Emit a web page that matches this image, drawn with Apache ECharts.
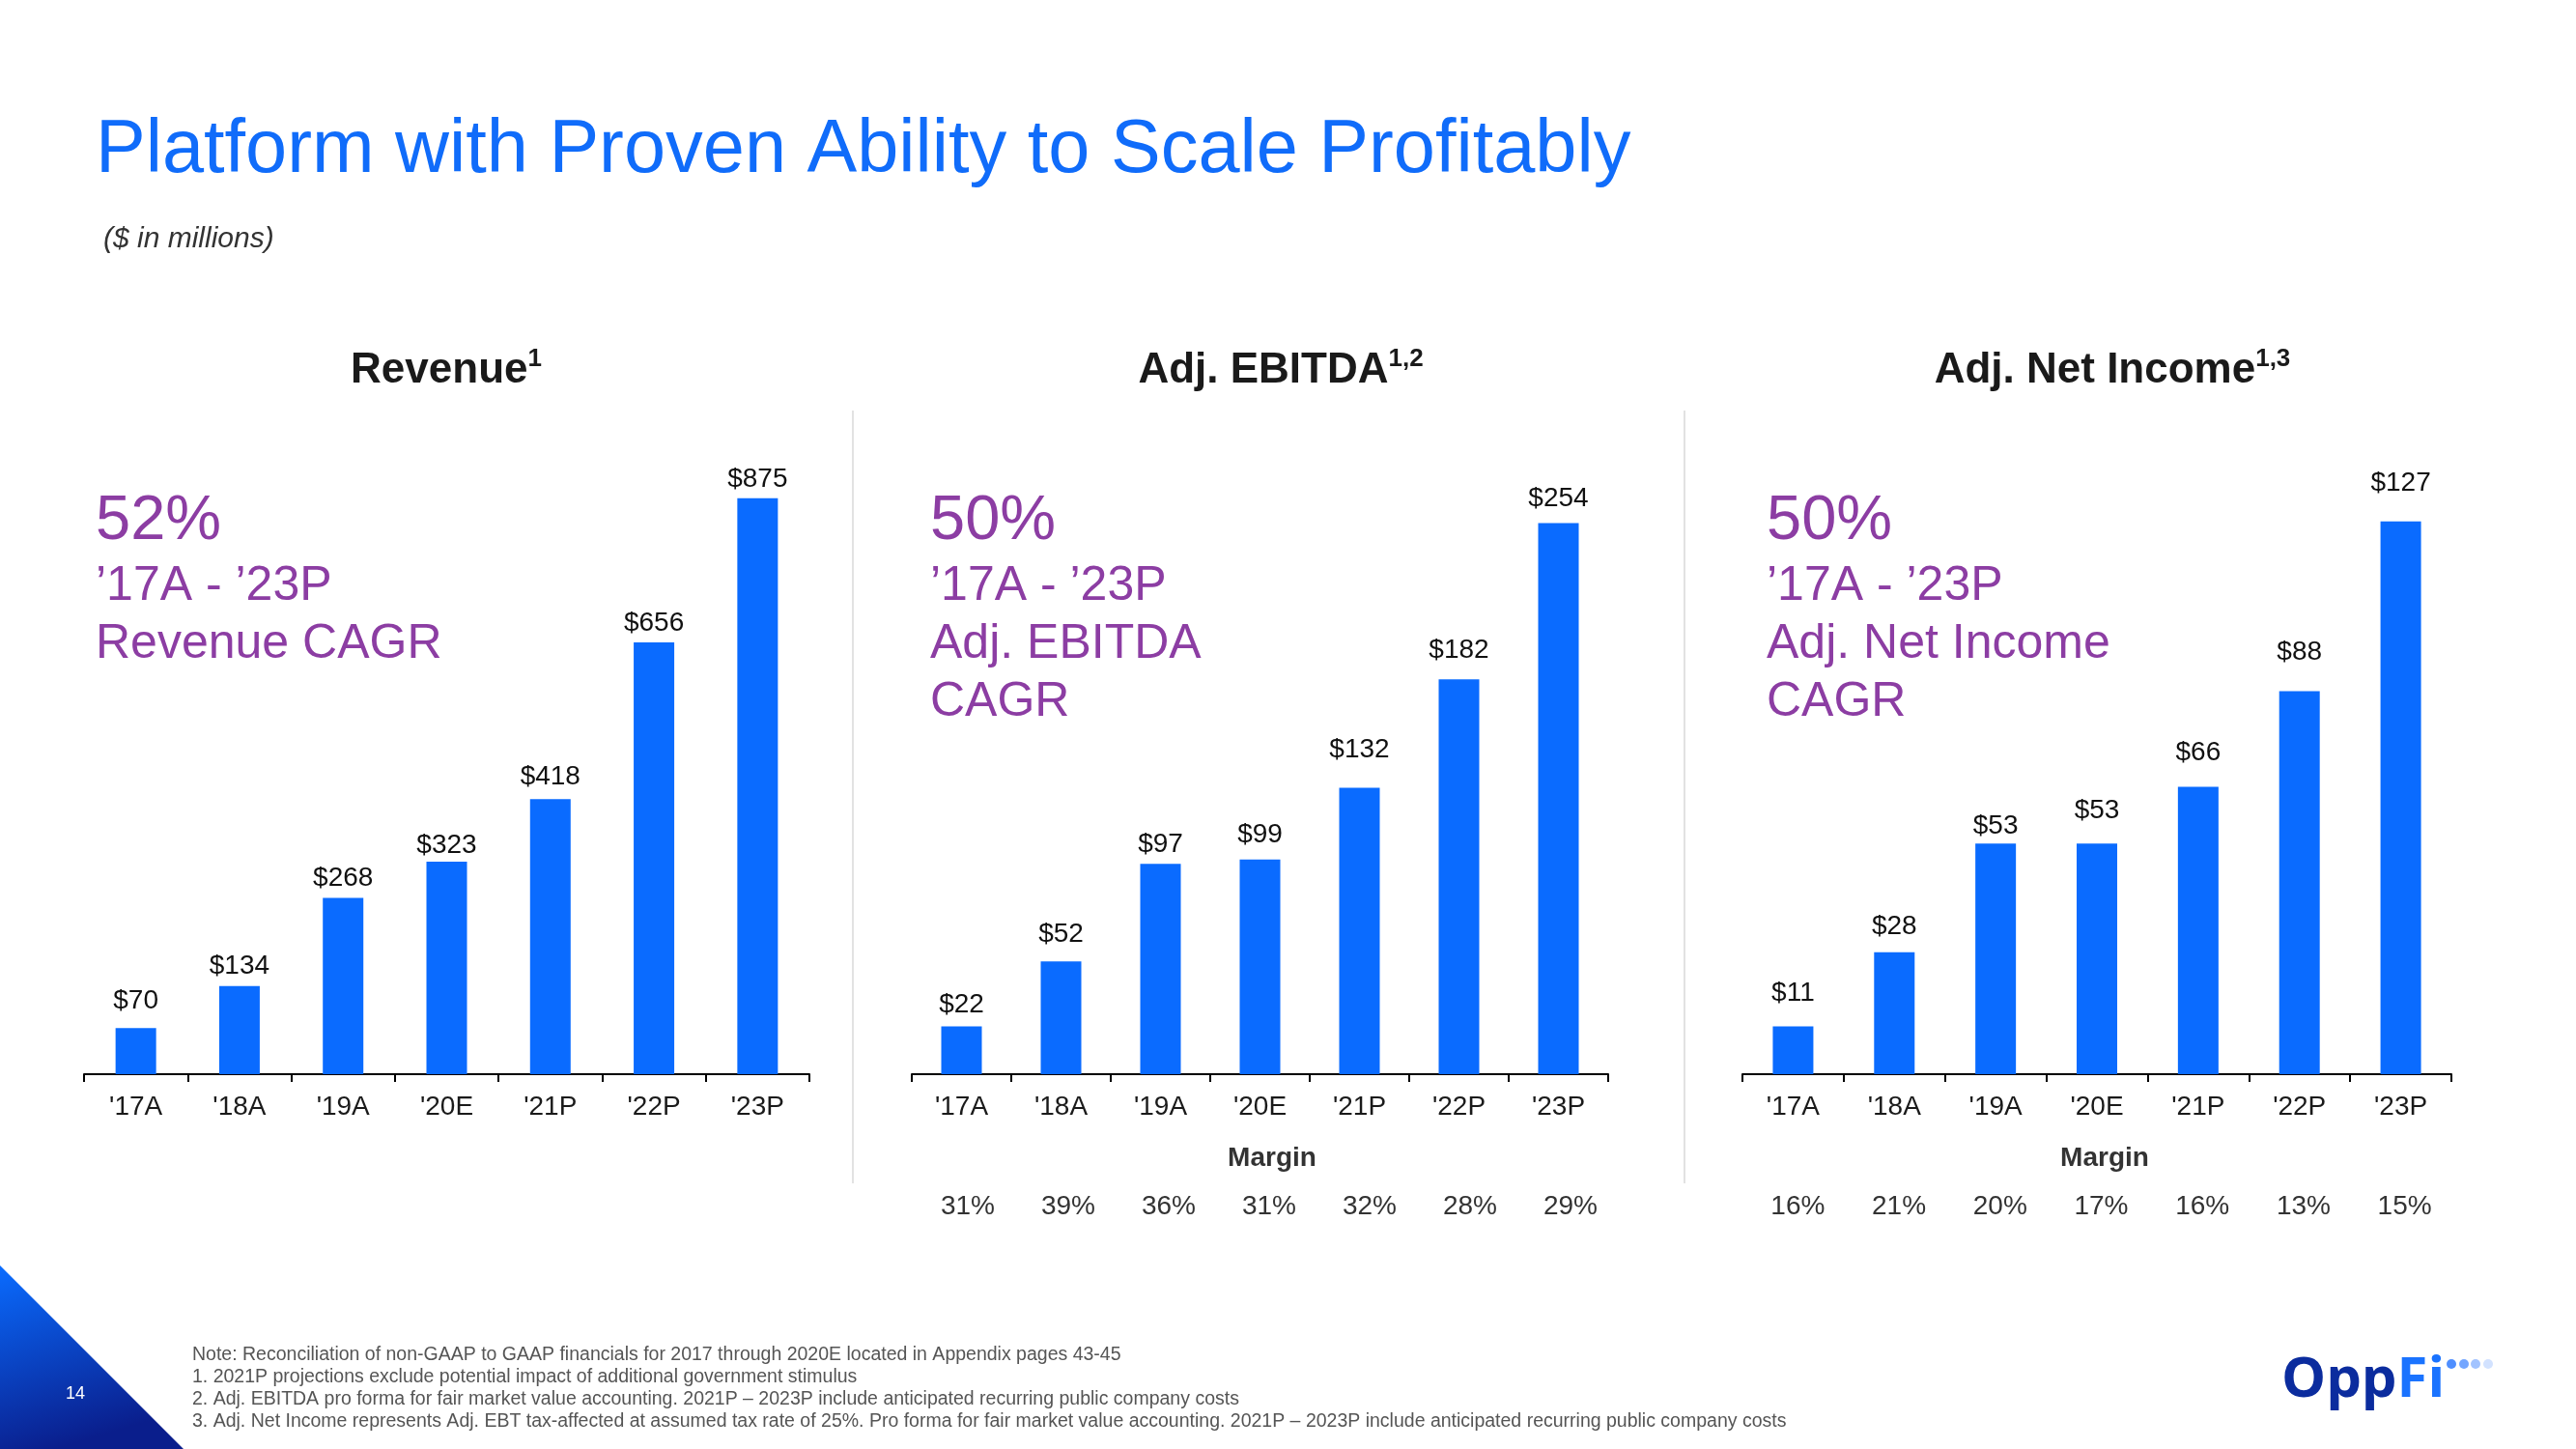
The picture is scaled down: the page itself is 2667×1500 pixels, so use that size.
<!DOCTYPE html>
<html>
<head>
<meta charset="utf-8">
<script src="https://cdn.jsdelivr.net/npm/echarts@6/dist/echarts.min.js"></script>
<style>
html,body{margin:0;padding:0;background:#fff;}
#chart{width:2667px;height:1500px;}
</style>
</head>
<body>
<div id="chart"></div>
<script>
// ---- data ----
const categories = ["'17A", "'18A", "'19A", "'20E", "'21P", "'22P", "'23P"];
const revenue = [70, 134, 268, 323, 418, 656, 875];
const ebitda = [22, 52, 97, 99, 132, 182, 254];
const netIncome = [11, 28, 53, 53, 66, 88, 127];
const ebitdaMargin = ['31%', '39%', '36%', '31%', '32%', '28%', '29%'];
const netIncomeMargin = ['16%', '21%', '20%', '17%', '16%', '13%', '15%'];
const cagrRevenue = ['52%', '\u201917A - \u201923P', 'Revenue CAGR'];
const cagrEbitda = ['50%', '\u201917A - \u201923P', 'Adj. EBITDA', 'CAGR'];
const cagrNet = ['50%', '\u201917A - \u201923P', 'Adj. Net Income', 'CAGR'];
const footnotes = [
  'Note: Reconciliation of non-GAAP to GAAP financials for 2017 through 2020E located in Appendix pages 43-45',
  '1. 2021P projections exclude potential impact of additional government stimulus',
  '2. Adj. EBITDA pro forma for fair market value accounting. 2021P \u2013 2023P include anticipated recurring public company costs',
  '3. Adj. Net Income represents Adj. EBT tax-affected at assumed tax rate of 25%. Pro forma for fair market value accounting. 2021P \u2013 2023P include anticipated recurring public company costs'
];

// ---- style (label gaps above bars, as placed in the original slide) ----
const revenueLabelGap = [14, 6, 6, 3, 9, 6, 6];
const ebitdaLabelGap = [8, 14, 6, 11, 25, 16, 11];
const netLabelGap = [20, 13, 4, 20, 21, 26, 25];

const FF = '"Liberation Sans", Arial, Helvetica, sans-serif';
const BLUE = '#0A6BFF';
const PURPLE = '#8C3DA3';
const TITLE_BLUE = '#106CFA';

const chart = echarts.init(document.getElementById('chart'), null, {renderer: 'canvas'});

function mainX(gi) {
  return {
    type: 'category', gridIndex: gi, data: categories,
    axisLine: {show: true, lineStyle: {color: '#000', width: 2}},
    axisTick: {show: true, length: 8, lineStyle: {color: '#000', width: 2}},
    axisLabel: {fontSize: 28, color: '#1a1a1a', margin: 20, fontFamily: FF}
  };
}
function marginX(gi, data) {
  return {
    type: 'category', gridIndex: gi, data: data,
    axisLine: {show: false}, axisTick: {show: false},
    axisLabel: {fontSize: 28, color: '#333', margin: 15, fontFamily: FF}
  };
}
function yAx(gi, max) {
  return {type: 'value', gridIndex: gi, min: 0, max: max, show: false, splitLine: {show: false}};
}
function barSeries(i, data, gaps) {
  return {
    type: 'bar', xAxisIndex: i, yAxisIndex: i, barWidth: 42,
    data: data.map((v, k) => ({value: v, label: {distance: gaps[k]}})),
    itemStyle: {color: BLUE},
    label: {show: true, position: 'top', distance: 6, fontSize: 28, color: '#111', fontFamily: FF,
      formatter: p => '$' + p.value}
  };
}
function txt(x, y, text, size, color, extra) {
  return {
    type: 'text', x: x, y: y,
    style: Object.assign({
      text: text, fontSize: size, fontFamily: FF, fill: color,
      align: 'left', verticalAlign: 'middle', textAlign: 'left', textVerticalAlign: 'middle'
    }, extra || {})
  };
}
function cagrBlock(x, lines) {
  const ys = [540, 607, 667, 727];
  return lines.map((l, i) => txt(x, ys[i], l, i === 0 ? 65 : 50, PURPLE));
}
function panelTitle(x, main, sup) {
  return {
    type: 'text', x: x, y: 384,
    style: {
      text: '{m|' + main + '}{s|' + sup + '}',
      align: 'center', verticalAlign: 'middle', textAlign: 'center', textVerticalAlign: 'middle',
      rich: {
        m: {fontSize: 44, fontWeight: 'bold', fontFamily: FF, fill: '#1a1a1a', lineHeight: 50},
        s: {fontSize: 26, fontWeight: 'bold', fontFamily: FF, fill: '#1a1a1a', verticalAlign: 'top', lineHeight: 50, padding: [0, 0, 14, 0]}
      }
    }
  };
}

const graphic = [
  txt(99, 157, 'Platform with Proven Ability to Scale Profitably', 77.5, TITLE_BLUE),
  txt(107, 248, '($ in millions)', 30, '#333', {fontStyle: 'italic'}),
  panelTitle(462, 'Revenue', '1'),
  panelTitle(1326, 'Adj. EBITDA', '1,2'),
  panelTitle(2187, 'Adj. Net Income', '1,3'),
  {type: 'line', shape: {x1: 883, y1: 425, x2: 883, y2: 1225}, style: {stroke: '#e2e2e2', lineWidth: 2}},
  {type: 'line', shape: {x1: 1744, y1: 425, x2: 1744, y2: 1225}, style: {stroke: '#e2e2e2', lineWidth: 2}},
  txt(1317, 1199, 'Margin', 28, '#333', {fontWeight: 'bold', align: 'center', textAlign: 'center'}),
  txt(2179, 1199, 'Margin', 28, '#333', {fontWeight: 'bold', align: 'center', textAlign: 'center'}),
  {type: 'polygon', shape: {points: [[0, 1310], [0, 1500], [190, 1500]]},
   style: {fill: new echarts.graphic.LinearGradient(0, 0, 0.3, 1, [
     {offset: 0, color: '#0A6CFF'}, {offset: 1, color: '#0A1E8C'}])}},
  txt(78, 1443, '14', 18, '#ffffff', {align: 'center', textAlign: 'center'}),
  {type: 'text', x: 2362, y: 1429, style: {
    text: '{a|Opp}{b|Fi}', align: 'left', verticalAlign: 'middle', textAlign: 'left', textVerticalAlign: 'middle',
    rich: {
      a: {fontSize: 58, fontWeight: 'bold', fontFamily: '"Open Sans", ' + FF, fill: '#0B2C9E'},
      b: {fontSize: 58, fontWeight: 'bold', fontFamily: '"Open Sans", ' + FF, fill: '#1A73FF'}
    }}},
  {type: 'circle', shape: {cx: 2538, cy: 1412, r: 5}, style: {fill: '#4F8FFF'}},
  {type: 'circle', shape: {cx: 2551, cy: 1412, r: 5}, style: {fill: '#74A6FF'}},
  {type: 'circle', shape: {cx: 2563, cy: 1412, r: 5}, style: {fill: '#A2C3FF'}},
  {type: 'circle', shape: {cx: 2576, cy: 1412, r: 5}, style: {fill: '#D2E2FF'}}
];
cagrBlock(99, cagrRevenue).forEach(g => graphic.push(g));
cagrBlock(963, cagrEbitda).forEach(g => graphic.push(g));
cagrBlock(1829, cagrNet).forEach(g => graphic.push(g));
const fy = [1403, 1426, 1449, 1472];
footnotes.forEach((f, i) => graphic.push(txt(199, fy[i], f, 19.5, '#555')));

const option = {
  animation: false,
  backgroundColor: '#ffffff',
  grid: [
    {left: 87, width: 751, top: 400, bottom: 388},
    {left: 944, width: 721, top: 400, bottom: 388},
    {left: 1804, width: 734, top: 400, bottom: 388},
    {left: 950, width: 728, top: 1200, height: 20},
    {left: 1809, width: 733, top: 1200, height: 20}
  ],
  xAxis: [mainX(0), mainX(1), mainX(2), marginX(3, ebitdaMargin), marginX(4, netIncomeMargin)],
  yAxis: [yAx(0, 1045), yAx(1, 317), yAx(2, 158), yAx(3, 1), yAx(4, 1)],
  series: [barSeries(0, revenue, revenueLabelGap), barSeries(1, ebitda, ebitdaLabelGap), barSeries(2, netIncome, netLabelGap)],
  graphic: graphic
};
chart.setOption(option);
</script>
</body>
</html>
